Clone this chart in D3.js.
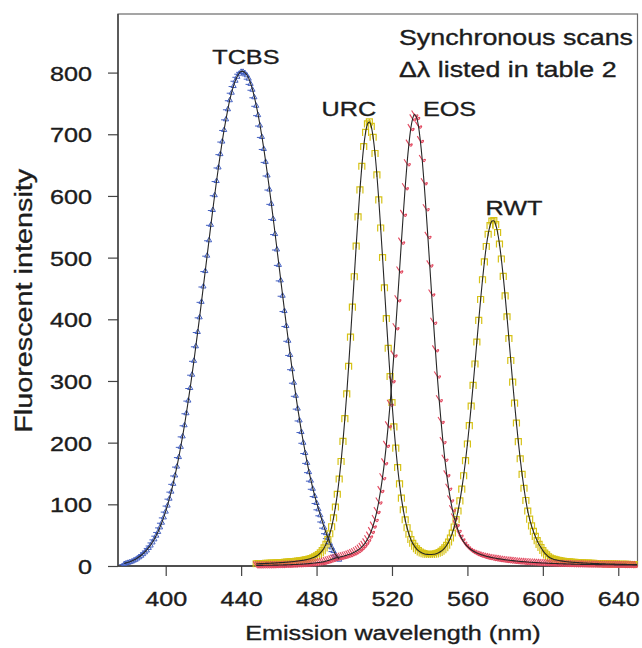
<!DOCTYPE html>
<html><head><meta charset="utf-8">
<script src="https://cdn.jsdelivr.net/npm/d3@7"></script>
<style>body{margin:0;background:#fff}svg{display:block}</style>
</head><body><svg id="c" width="642" height="648"></svg>
<script>
// ---------- data ----------
const xTickValues = [400, 440, 480, 520, 560, 600, 640];
const yTickValues = [0, 100, 200, 300, 400, 500, 600, 700, 800];

// TCBS (blue), 1 nm steps
const tcbsWavelength = [378,379,380,381,382,383,384,385,386,387,388,389,390,391,392,393,394,395,396,397,398,399,400,401,402,403,404,405,406,407,408,409,410,411,412,413,414,415,416,417,418,419,420,421,422,423,424,425,426,427,428,429,430,431,432,433,434,435,436,437,438,439,440,441,442,443,444,445,446,447,448,449,450,451,452,453,454,455,456,457,458,459,460,461,462,463,464,465,466,467,468,469,470,471,472,473,474,475,476,477,478,479,480,481,482,483,484,485,486,487,488,489,490,491,492];
const tcbsIntensity = [4,5.1,6,7,8,9.6,11,13,15,17.4,20,23,26,30.1,34,39,44,50,56,63.4,71,79.6,89,98.8,110,121.4,134,147.6,162,177.4,194,211,229,248.5,269,289.4,311,333.5,357,380.2,404,429.1,454,479,504,528.9,554,578,602,625,647,668.6,689,707.8,725,741.3,756,768.2,779,787.6,794,799,802,802,800,796.4,791,782.5,773,760.8,747,731.8,715,696.5,677,656,634,611.2,588,563.5,539,514,489,463.9,439,414.2,390,366,343,319.9,298,276.8,256,236.8,218,200.6,184,168,153,139.2,126,114.2,103,92.7,83,73,63,54,46,38,31,25,19,15,11];

// shared wavelength grid of the two synchronous scans that start at 448 nm
const scanWavelength = [448,449,450,451,452,453,454,455,456,457,458,459,460,461,462,463,464,465,466,467,468,469,470,471,472,473,474,475,476,477,478,479,480,481,482,483,484,485,486,487,488,489,490,491,492,493,494,495,496,497,498,499,500,501,502,503,504,505,506,507,508,509,510,511,512,513,514,515,516,517,518,519,520,521,522,523,524,525,526,527,528,529,530,531,532,533,534,535,536,537,538,539,540,541,542,543,544,545,546,547,548,549,550,551,552,553,554,555,556,557,558,559,560,561,562,563,564,565,566,567,568,569,570,571,572,573,574,575,576,577,578,579,580,581,582,583,584,585,586,587,588,589,590,591,592,593,594,595,596,597,598,599,600,601,602,603,604,605,606,607,608,609,610,611,612,613,614,615,616,617,618,619,620,621,622,623,624,625,626,627,628,629,630,631,632,633,634,635,636,637,638,639,640,641,642,643,644,645,646,647,648,649,650];

// URC + RWT (yellow), one scan
const urcRwtIntensity = [3.6,3.7,3.8,3.9,4.0,4.2,4.3,4.4,4.6,4.7,4.9,5.1,5.3,5.5,5.7,5.9,6.2,6.4,6.7,7.0,7.3,7.6,8.0,8.4,8.9,9.3,9.9,10.5,11.3,12.2,13.3,14.7,16.3,18.5,21.3,24.9,29.3,35.3,42.7,52.1,63.6,78,95.5,116.2,141,169.4,202,238.8,279,323.7,371,419.6,469,518.6,566,609.8,648,680,703,716.8,720,712.7,695,668.8,634,593.6,548,500.1,451,401.1,353,307.2,265,225.5,191,159.6,133,110,91,74.9,62,51.5,43,36.7,32,27.8,25,22.7,21,20,19,18.8,18.6,18.7,19,19.5,20.6,21.9,23.8,26.3,29.5,33.6,38.8,45.4,53.4,63.2,75.1,89.1,105.5,124.6,146.3,170.7,197.8,227.5,259.2,292.7,327.5,363,398.1,432.1,464.1,493.1,518,537.7,551.8,559.2,559.9,553.6,540.7,521.9,497.8,469.5,437.9,404,368.7,333.2,298,264,231.7,201.5,173.7,148.5,126,106.2,89,76,65,56,48,41,35,30,25,21,18,15,13,11.7,10.6,9.9,9.2,8.6,8.1,7.6,7.2,6.9,6.6,6.3,6.1,5.8,5.6,5.4,5.2,5.0,4.9,4.7,4.5,4.4,4.2,4.1,4.0,3.9,3.7,3.6,3.5,3.4,3.3,3.2,3.1,3.0,3.0,2.9,2.8,2.75,2.7,2.65,2.6,2.5,2.4,2.35,2.3,2.25,2.2];

// EOS (red)
const eosIntensity = [1.0,1.0,1.0,1.05,1.1,1.15,1.2,1.25,1.3,1.35,1.4,1.45,1.5,1.6,1.7,1.8,1.9,2.0,2.1,2.25,2.4,2.55,2.7,2.85,3.0,3.2,3.4,3.65,3.9,4.2,4.5,4.85,5.2,5.6,6.0,6.5,7.0,7.9,8.8,9.8,10.8,11.9,13.0,13.6,14.3,15.0,15.7,16.6,17.5,18.5,19.6,20.9,22.3,24.0,25.9,28.2,31.0,34.3,38.3,43.3,49.3,56.6,65.5,76.2,89,104.6,123,144,168,196.4,228,263,301,342.7,387,432.4,479,525.9,571,614,653,684.9,710,725.8,732,727.8,714,690.5,660,622.1,580,535.2,489,441.7,396,351.3,309,270.4,235,202.4,174,148.6,127,107.9,92,78.6,67.5,58.3,50.6,44.4,39.3,35.1,31.7,28.8,26.4,24.4,22.6,21.1,19.9,18.7,17.7,16.7,15.8,15.1,14.4,13.7,13.1,12.6,12.0,11.5,11.1,10.6,10.2,9.8,9.4,9.0,8.7,8.35,8.0,7.7,7.4,7.15,6.9,6.65,6.4,6.2,6.0,5.8,5.6,5.4,5.2,5.05,4.9,4.75,4.6,4.45,4.3,4.2,4.1,3.95,3.8,3.7,3.6,3.5,3.4,3.3,3.2,3.1,3.0,2.95,2.9,2.8,2.7,2.65,2.6,2.55,2.5,2.45,2.4,2.35,2.3,2.25,2.2,2.15,2.1,2.05,2.0,2.0,2.0,1.95,1.9,1.85,1.8,1.8,1.8,1.75,1.7,1.7,1.7,1.65,1.6,1.6,1.6];

// peak labels (placed in data units)
const peakNames      = ["TCBS", "URC", "EOS", "RWT"];
const peakLabelWl    = [442.5, 497.1, 550.5, 584.7];
const peakLabelValue = [814, 729, 729, 569];
const noteLines = ["Synchronous scans", "\u0394\u03bb listed in table 2"];
const noteWl = 523.7, noteValues = [844.7, 792.8];

// ---------- layout ----------
const FONT = "'Liberation Sans', Arial, Helvetica, sans-serif";
const SX = 1.2;                 // reference text is horizontally wide
const TXT = "#1c1c1c";
const svg = d3.select("#c");
svg.append("rect").attr("width",642).attr("height",648).attr("fill","#ffffff");

const x = d3.scaleLinear().domain([374.7, 650.2]).range([118, 637.5]);
const y = d3.scaleLinear().domain([0, 895]).range([566, 14]);
const [x0, x1] = x.domain();

function styleText(sel, size){
  sel.attr("font-size",size).attr("font-family",FONT).attr("fill",TXT)
     .attr("stroke",TXT).attr("stroke-width",0.35);
}

// frame
svg.append("rect").attr("x",x(x0)).attr("y",y(895))
  .attr("width",x(x1)-x(x0)).attr("height",y(0)-y(895))
  .attr("fill","none").attr("stroke","#6a6a6a").attr("stroke-width",1.2);

// clip
svg.append("clipPath").attr("id","clip").append("rect")
  .attr("x",x(x0)).attr("y",y(895)).attr("width",x(x1)-x(x0)).attr("height",y(0)-y(895)+8);

// axes
const gx = svg.append("g").attr("transform",`translate(0,${y(0)})`)
  .call(d3.axisBottom(x).tickValues(xTickValues).tickSize(10).tickSizeOuter(0).tickFormat(d3.format("d")));
gx.select(".domain").remove();
gx.selectAll(".tick line").attr("stroke","#444").attr("stroke-width",1.2);
gx.selectAll(".tick text").attr("y",0).attr("dy",0)
  .attr("transform",`translate(0,40) scale(${SX},1)`).call(styleText, 21);

const gy = svg.append("g").attr("transform",`translate(${x(x0)},0)`)
  .call(d3.axisLeft(y).tickValues(yTickValues).tickSize(10).tickSizeOuter(0).tickFormat(d3.format("d")));
gy.select(".domain").remove();
gy.selectAll(".tick line").attr("stroke","#444").attr("stroke-width",1.2);
gy.selectAll(".tick text").attr("x",0).attr("dy","0.36em")
  .attr("transform",`translate(-26,0) scale(${SX},1)`).call(styleText, 21);

// axis lines
svg.append("line").attr("x1",x(x0)).attr("x2",x(x0)).attr("y1",y(895)).attr("y2",y(0))
  .attr("stroke","#333").attr("stroke-width",1.3);
svg.append("line").attr("x1",x(x0)).attr("x2",x(x1)).attr("y1",y(0)).attr("y2",y(0))
  .attr("stroke","#333").attr("stroke-width",1.3);

// axis titles
svg.append("text").attr("transform",`translate(${x(520.5)},640) scale(${SX},1)`)
  .attr("text-anchor","middle").call(styleText, 21).text("Emission wavelength (nm)");
svg.append("text").attr("transform",`translate(32,${y(430)}) rotate(-90) scale(1.2,1)`)
  .attr("text-anchor","middle").call(styleText, 24).text("Fluorescent intensity");

// ---------- series ----------
function pts(wl, val){ return wl.map((w,i)=>({w:w, v:val[i]})).filter(d=>d.v!==undefined); }
const series = [
  {data: pts(tcbsWavelength, tcbsIntensity), color:"#4460c0",
   sym:"M-5,1H-1M0,-2.5L2.6,2H-2.6Z", sw:1},
  {data: pts(scanWavelength, urcRwtIntensity), color:"#d6c216",
   sym:"M-3,3.5V-3H3V3.5M0,-3V2", sw:1.2},
  {data: pts(scanWavelength, eosIntensity), color:"#e2485f",
   sym:"M-3,-4L0.5,1.5Q2,4 3.2,1.2Q3.6,-0.8 0.5,1.5", sw:1.1}
];
const plot = svg.append("g").attr("clip-path","url(#clip)");
series.forEach(s=>{
  plot.append("g").selectAll("path").data(s.data).join("path")
    .attr("d", s.sym)
    .attr("transform", d=>`translate(${x(d.w)},${y(d.v)})`)
    .attr("fill","none").attr("stroke", s.color).attr("stroke-width", s.sw);
});
const line = d3.line().x(d=>x(d.w)).y(d=>y(d.v)).curve(d3.curveMonotoneX);
series.forEach(s=>{
  plot.append("path").datum(s.data).attr("d", line)
    .attr("fill","none").attr("stroke","#262626").attr("stroke-width",1.1);
});

// peak labels
peakNames.forEach((n,i)=>{
  svg.append("text").attr("transform",`translate(${x(peakLabelWl[i])},${y(peakLabelValue[i])}) scale(${SX},1)`)
    .attr("text-anchor","middle").call(styleText, 21).text(n);
});
// note
noteLines.forEach((t,i)=>{
  svg.append("text").attr("transform",`translate(${x(noteWl)},${y(noteValues[i])}) scale(1.22,1)`)
    .call(styleText, 22).text(t);
});
</script></body></html>
